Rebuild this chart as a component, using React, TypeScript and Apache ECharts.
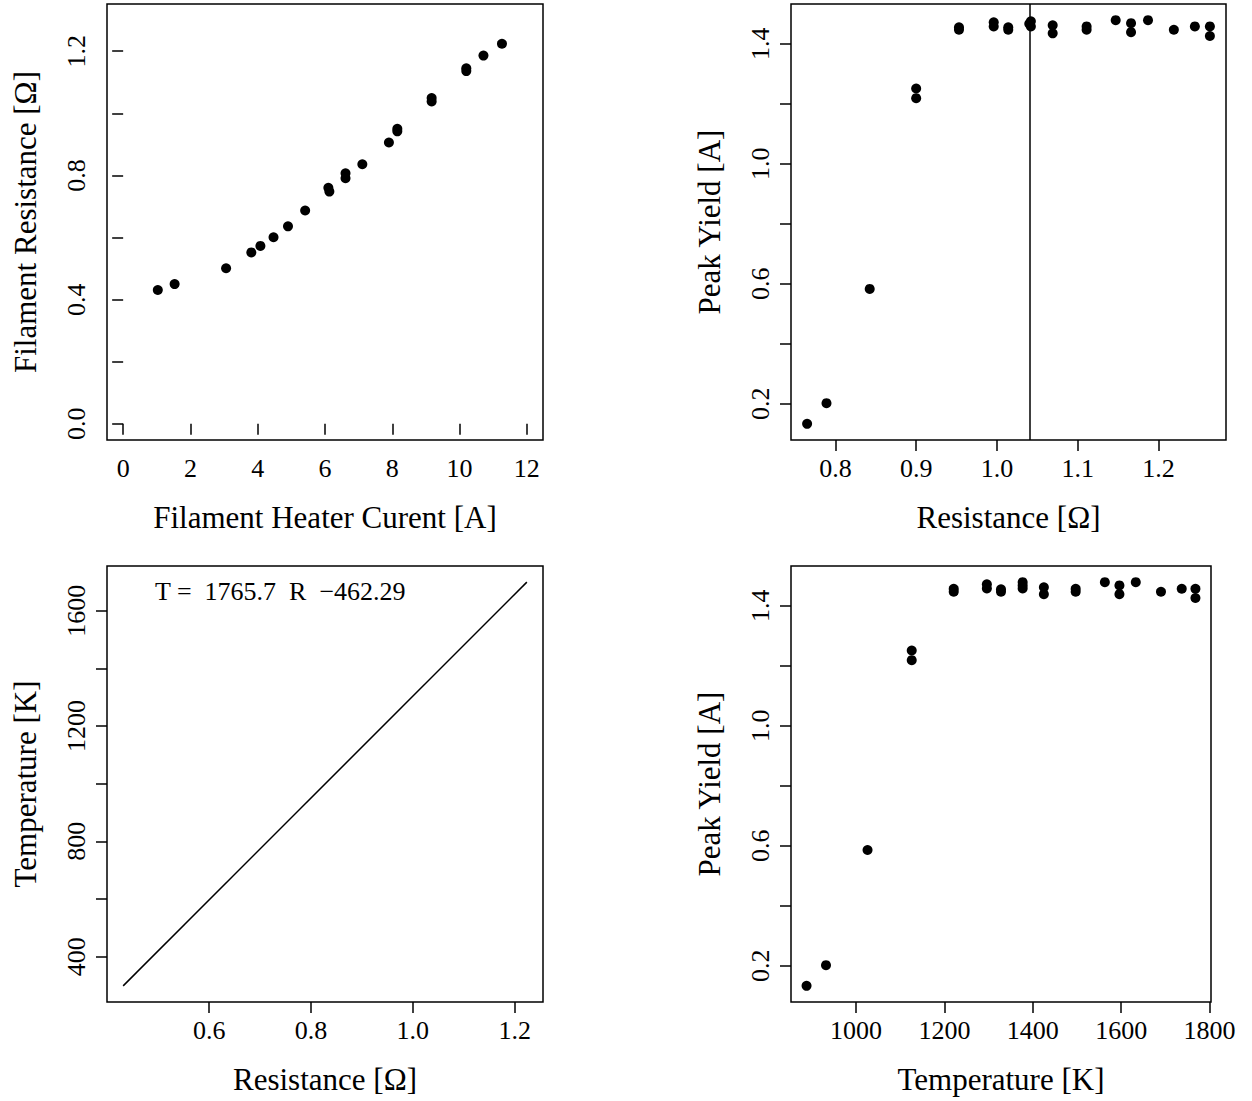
import React, { useEffect, useRef } from "react";
import * as echarts from "echarts";

// Panel 1: filament heater current vs filament resistance
const heaterCurrent = [1.03, 1.53, 3.06, 3.81, 4.08, 4.47, 4.9, 5.41, 6.1, 6.13, 6.61, 6.61, 7.11, 7.9, 8.15, 8.15, 9.17, 9.17, 10.2, 10.2, 10.71, 11.26];
const filamentResistance = [0.431, 0.45, 0.501, 0.552, 0.573, 0.601, 0.636, 0.687, 0.76, 0.748, 0.807, 0.791, 0.836, 0.906, 0.95, 0.942, 1.049, 1.038, 1.145, 1.136, 1.186, 1.224];

// Panel 2: resistance vs peak yield
const yieldResistance = [0.765, 0.789, 0.8425, 0.9, 0.9, 0.953, 0.953, 0.996, 0.996, 1.014, 1.014, 1.042, 1.042, 1.04, 1.069, 1.069, 1.111, 1.111, 1.147, 1.166, 1.166, 1.187, 1.219, 1.245, 1.2636, 1.2636];
const peakYieldR = [0.133, 0.202, 0.583, 1.251, 1.219, 1.455, 1.447, 1.472, 1.458, 1.455, 1.447, 1.475, 1.458, 1.467, 1.462, 1.435, 1.458, 1.447, 1.479, 1.469, 1.439, 1.479, 1.447, 1.458, 1.458, 1.426];
const cutResistance = 1.04;

// Panel 3: temperature vs peak yield
const yieldTemperature = [888, 932, 1026, 1126, 1126, 1221, 1221, 1296, 1296, 1328, 1328, 1377, 1377, 1377, 1425, 1425, 1497, 1497, 1563, 1596, 1596, 1633, 1690, 1737, 1768, 1768];
const peakYieldT = [0.133, 0.202, 0.586, 1.251, 1.219, 1.457, 1.447, 1.472, 1.458, 1.455, 1.447, 1.479, 1.458, 1.468, 1.462, 1.439, 1.457, 1.447, 1.479, 1.468, 1.439, 1.479, 1.447, 1.457, 1.457, 1.426];

// Panel 4: calibration line T = 1765.7 R - 462.29
const calibR = [0.431, 1.224];
const calibT = [298.7, 1698.9];
const calibText = "T =  1765.7  R  \u2212462.29";

// Tick values and labels
const p1xTicks = [0, 2, 4, 6, 8, 10, 12];
const p1yTicks = [0, 0.2, 0.4, 0.6, 0.8, 1.0, 1.2];
const p1yLabels = [0, 0.4, 0.8, 1.2];
const p2xTicks = [0.8, 0.9, 1.0, 1.1, 1.2];
const yieldTicks = [0.2, 0.4, 0.6, 0.8, 1.0, 1.2, 1.4];
const yieldLabels = [0.2, 0.6, 1.0, 1.4];
const p3xTicks = [1000, 1200, 1400, 1600, 1800];
const p4xTicks = [0.6, 0.8, 1.0, 1.2];
const p4yTicks = [400, 600, 800, 1000, 1200, 1400, 1600];
const p4yLabels = [400, 800, 1200, 1600];

const FONT = "Liberation Serif";
const TICK_FS = 26;
const NAME_FS = 31;

// R-style 4% range extension
function rExt(vals: number[]): [number, number] {
  const lo = Math.min(...vals);
  const hi = Math.max(...vals);
  const d = (hi - lo) * 0.04;
  return [lo - d, hi + d];
}

function xAxis(gi: number, range: [number, number], ticks: number[], labels: number[], fmt: (v: number) => string, name: string) {
  return {
    type: "value",
    gridIndex: gi,
    min: range[0],
    max: range[1],
    name,
    nameLocation: "middle",
    nameGap: 62,
    nameTextStyle: { fontFamily: FONT, fontSize: NAME_FS, color: "#000" },
    axisLine: { show: false },
    splitLine: { show: false },
    axisTick: { show: true, inside: false, length: 11, customValues: ticks, lineStyle: { color: "#000", width: 1.5 } },
    axisLabel: { show: true, customValues: labels, margin: 15, formatter: fmt, fontFamily: FONT, fontSize: TICK_FS, color: "#000" },
  };
}

function yAxis(gi: number, range: [number, number], ticks: number[], labels: number[], fmt: (v: number) => string, name: string) {
  return {
    type: "value",
    gridIndex: gi,
    min: range[0],
    max: range[1],
    name,
    nameLocation: "middle",
    nameGap: 66,
    nameRotate: 90,
    nameTextStyle: { fontFamily: FONT, fontSize: NAME_FS, color: "#000" },
    axisLine: { show: false },
    splitLine: { show: false },
    axisTick: { show: true, inside: false, length: 11, customValues: ticks, lineStyle: { color: "#000", width: 1.5 } },
    axisLabel: { show: true, rotate: 90, customValues: labels, margin: 18, formatter: fmt, fontFamily: FONT, fontSize: TICK_FS, color: "#000" },
  };
}

const f1 = (v: number) => v.toFixed(1);
const f0 = (v: number) => String(Math.round(v));

function zip(a: number[], b: number[]) {
  return a.map((v, i) => [v, b[i]]);
}

const dotStyle = { color: "#000", opacity: 1 };

export default function App() {
  const ref = useRef<HTMLDivElement>(null);
  useEffect(() => {
    if (!ref.current) return;
    const chart = echarts.init(ref.current, undefined, { renderer: "svg" });
    const gridBase = { show: true, borderColor: "#000", borderWidth: 1.5, backgroundColor: "transparent", containLabel: false };
    const option = {
      animation: false,
      backgroundColor: "#fff",
      grid: [
        { ...gridBase, left: 107, top: 4, width: 436, height: 436 },
        { ...gridBase, left: 791, top: 4, width: 435, height: 436 },
        { ...gridBase, left: 791, top: 566, width: 420, height: 436 },
        { ...gridBase, left: 107, top: 566, width: 436, height: 436 },
      ],
      xAxis: [
        xAxis(0, rExt([0, 12]), p1xTicks, p1xTicks, f0, "Filament Heater Curent [A]"),
        xAxis(1, rExt(yieldResistance), p2xTicks, p2xTicks, f1, "Resistance [\u03A9]"),
        xAxis(2, rExt(yieldTemperature), p3xTicks, p3xTicks, f0, "Temperature [K]"),
        xAxis(3, rExt(calibR), p4xTicks, p4xTicks, f1, "Resistance [\u03A9]"),
      ],
      yAxis: [
        yAxis(0, rExt([0, 1.3]), p1yTicks, p1yLabels, f1, "Filament Resistance [\u03A9]"),
        yAxis(1, rExt(peakYieldR), yieldTicks, yieldLabels, f1, "Peak Yield [A]"),
        yAxis(2, rExt(peakYieldT), yieldTicks, yieldLabels, f1, "Peak Yield [A]"),
        yAxis(3, rExt(calibT), p4yTicks, p4yLabels, f0, "Temperature [K]"),
      ],
      series: [
        {
          type: "scatter",
          xAxisIndex: 0,
          yAxisIndex: 0,
          data: zip(heaterCurrent, filamentResistance),
          symbol: "circle",
          symbolSize: 10,
          itemStyle: dotStyle,
          silent: true,
        },
        {
          type: "scatter",
          xAxisIndex: 1,
          yAxisIndex: 1,
          data: zip(yieldResistance, peakYieldR),
          symbol: "circle",
          symbolSize: 10,
          itemStyle: dotStyle,
          silent: true,
          markLine: {
            silent: true,
            symbol: ["none", "none"],
            label: { show: false },
            lineStyle: { color: "#000", type: "solid", width: 1.5 },
            data: [{ xAxis: cutResistance }],
          },
        },
        {
          type: "scatter",
          xAxisIndex: 2,
          yAxisIndex: 2,
          data: zip(yieldTemperature, peakYieldT),
          symbol: "circle",
          symbolSize: 10,
          itemStyle: dotStyle,
          silent: true,
        },
        {
          type: "line",
          xAxisIndex: 3,
          yAxisIndex: 3,
          data: zip(calibR, calibT),
          showSymbol: false,
          lineStyle: { color: "#000", width: 1.5 },
          silent: true,
        },
      ],
      graphic: [
        {
          type: "text",
          left: 155,
          top: 578,
          style: { text: calibText, fontFamily: FONT, fontSize: TICK_FS, fill: "#000" },
        },
      ],
    };
    chart.setOption(option as any);
    return () => chart.dispose();
  }, []);
  return <div ref={ref} style={{ position: "absolute", left: 0, top: 0, width: 1252, height: 1101 }} />;
}
